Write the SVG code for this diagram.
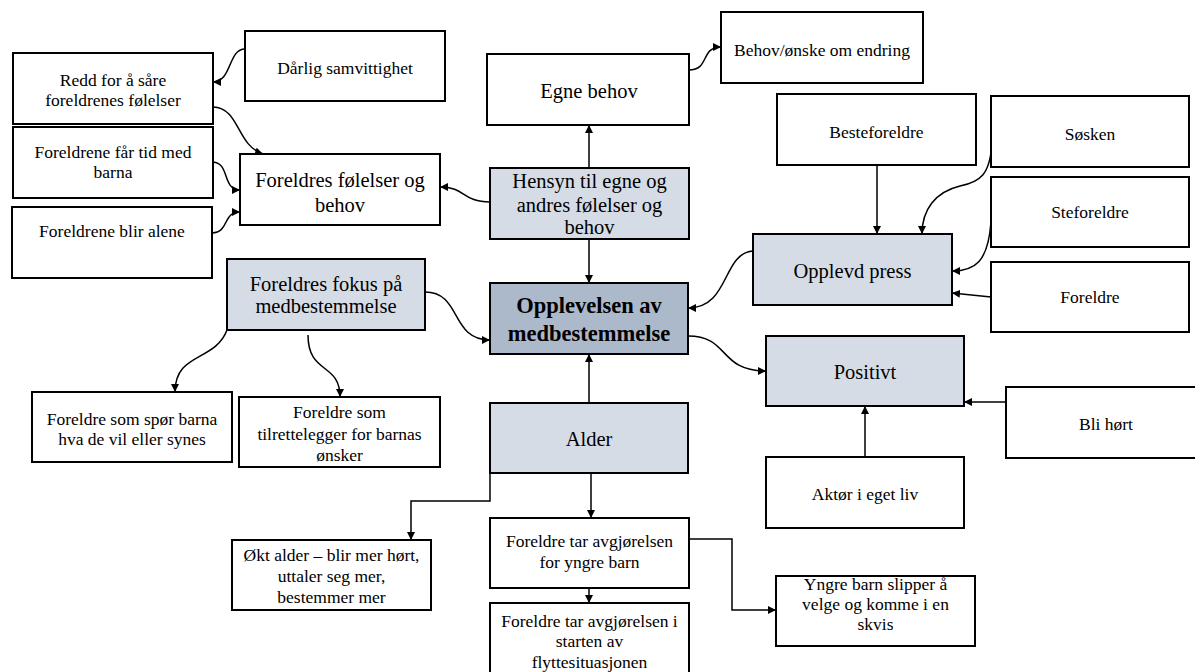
<svg xmlns="http://www.w3.org/2000/svg" width="1195" height="672" viewBox="0 0 1195 672">
<style>
.b{fill:#ffffff;stroke:#000000;stroke-width:2}
.l{fill:#d6dce5;stroke:#000000;stroke-width:2}
.d{fill:#acb9ca;stroke:#000000;stroke-width:2}
.s,.m,.x{font-family:"Liberation Serif",serif;fill:#000000;text-anchor:middle}
.s{font-size:17.5px}
.m{font-size:20.5px}
.x{font-size:22.5px;font-weight:bold}
.c{fill:none;stroke:#000000;stroke-width:1.5;marker-end:url(#ah)}
</style>
<defs>
<marker id="ah" markerUnits="userSpaceOnUse" markerWidth="9" markerHeight="8" refX="8" refY="4" orient="auto">
<path d="M0,0 L8,4 L0,8 z" fill="#000000"/>
</marker>
</defs>
<rect width="1195" height="672" fill="#ffffff"/>
<g id="connectors">
<path class="c" d="M245,49 C228,49 232,82 213,82"/>
<path class="c" d="M213,107 C240,108 236,145 263,154"/>
<path class="c" d="M213,162 C230,163 222,190 240,190"/>
<path class="c" d="M212,233 C230,232 222,212 240,212"/>
<path class="c" d="M490,202 C462,202 466,187 440,187"/>
<path class="c" d="M689,70 C710,70 700,47 721,47"/>
<path class="c" d="M992,143 C990,175 980,182 960,186 C935,192 922,210 922,234"/>
<path class="c" d="M991,222 C988,262 975,271 952,271"/>
<path class="c" d="M991,297 L952,293"/>
<path class="c" d="M753,251 C722,253 730,308 688,308"/>
<path class="c" d="M688,336 C730,336 718,371 766,371"/>
<path class="c" d="M425,292 C462,292 450,340 490,340"/>
<path class="c" d="M227,330 C215,362 175,352 175,392"/>
<path class="c" d="M308,335 C308,375 340,362 340,397"/>
<path class="c" d="M589,168 L589,125"/>
<path class="c" d="M589,239 L589,283"/>
<path class="c" d="M877,165 L877,234"/>
<path class="c" d="M589,403 L589,354"/>
<path class="c" d="M865,457 L865,406"/>
<path class="c" d="M1006,402 L964,402"/>
<path class="c" d="M490,473 L490,501 L411,501 L411,540"/>
<path class="c" d="M591,473 L591,518"/>
<path class="c" d="M589,588 L589,603"/>
<path class="c" d="M689,539 L732,539 L732,610 L776,610"/>
</g>
<g font-family="Liberation Serif, serif">
<g id="n-darlig"><rect class="b" x="245" y="31" width="200" height="70"/><text class="s" x="345" y="74">Dårlig samvittighet</text></g>
<g id="n-redd"><rect class="b" x="13" y="53" width="200" height="71"/><text class="s" x="113" y="86">Redd for å såre</text><text class="s" x="113" y="106">foreldrenes følelser</text></g>
<g id="n-tid"><rect class="b" x="13" y="127" width="200" height="71"/><text class="s" x="113" y="158">Foreldrene får tid med</text><text class="s" x="113" y="178">barna</text></g>
<g id="n-alene"><rect class="b" x="12" y="207" width="200" height="71"/><text class="s" x="112" y="237">Foreldrene blir alene</text></g>
<g id="n-foreldres-folelser"><rect class="b" x="240" y="154" width="200" height="71"/><text class="m" x="340" y="187">Foreldres følelser og</text><text class="m" x="340" y="212">behov</text></g>
<g id="n-egne"><rect class="b" x="487" y="54" width="202" height="71"/><text class="m" x="589" y="98">Egne behov</text></g>
<g id="n-endring"><rect class="b" x="721" y="12" width="202" height="71"/><text class="s" x="822" y="56">Behov/ønske om endring</text></g>
<g id="n-hensyn"><rect class="l" x="490" y="168" width="199" height="71"/><text class="m" x="589.5" y="188">Hensyn til egne og</text><text class="m" x="589.5" y="212">andres følelser og</text><text class="m" x="589.5" y="234">behov</text></g>
<g id="n-besteforeldre"><rect class="b" x="777" y="94" width="199" height="71"/><text class="s" x="876.5" y="138">Besteforeldre</text></g>
<g id="n-sosken"><rect class="b" x="991" y="96" width="198" height="71"/><text class="s" x="1090" y="140">Søsken</text></g>
<g id="n-steforeldre"><rect class="b" x="991" y="177" width="198" height="70"/><text class="s" x="1090" y="218">Steforeldre</text></g>
<g id="n-foreldre"><rect class="b" x="991" y="262" width="198" height="70"/><text class="s" x="1090" y="303">Foreldre</text></g>
<g id="n-press"><rect class="l" x="753" y="234" width="199" height="71"/><text class="m" x="852.5" y="278">Opplevd press</text></g>
<g id="n-fokus"><rect class="l" x="227" y="259" width="198" height="71"/><text class="m" x="326" y="291">Foreldres fokus på</text><text class="m" x="326" y="313">medbestemmelse</text></g>
<g id="n-opplevelsen"><rect class="d" x="490" y="283" width="198" height="71"/><text class="x" x="589" y="313">Opplevelsen av</text><text class="x" x="589" y="341">medbestemmelse</text></g>
<g id="n-positivt"><rect class="l" x="766" y="336" width="198" height="70"/><text class="m" x="865" y="379">Positivt</text></g>
<g id="n-hort"><rect class="b" x="1006" y="387" width="200" height="71"/><text class="s" x="1106" y="430">Bli hørt</text></g>
<g id="n-aktor"><rect class="b" x="766" y="457" width="198" height="71"/><text class="s" x="865" y="500">Aktør i eget liv</text></g>
<g id="n-alder"><rect class="l" x="490" y="403" width="198" height="70"/><text class="m" x="589" y="446">Alder</text></g>
<g id="n-spor"><rect class="b" x="32" y="392" width="200" height="70"/><text class="s" x="132" y="425">Foreldre som spør barna</text><text class="s" x="132" y="445">hva de vil eller synes</text></g>
<g id="n-tilrette"><rect class="b" x="239" y="397" width="201" height="70"/><text class="s" x="339.5" y="418">Foreldre som</text><text class="s" x="339.5" y="440">tilrettelegger for barnas</text><text class="s" x="339.5" y="461">ønsker</text></g>
<g id="n-okt"><rect class="b" x="232" y="540" width="199" height="70"/><text class="s" x="331.5" y="561">Økt alder – blir mer hørt,</text><text class="s" x="331.5" y="582">uttaler seg mer,</text><text class="s" x="331.5" y="603">bestemmer mer</text></g>
<g id="n-yngre-avgj"><rect class="b" x="490" y="518" width="199" height="70"/><text class="s" x="589.5" y="547">Foreldre tar avgjørelsen</text><text class="s" x="589.5" y="568">for yngre barn</text></g>
<g id="n-starten"><rect class="b" x="490" y="603" width="199" height="75"/><text class="s" x="589.5" y="627">Foreldre tar avgjørelsen i</text><text class="s" x="589.5" y="647">starten av</text><text class="s" x="589.5" y="668">flyttesituasjonen</text></g>
<g id="n-skvis"><rect class="b" x="776" y="576" width="199" height="70"/><text class="s" x="875.5" y="590">Yngre barn slipper å</text><text class="s" x="875.5" y="610">velge og komme i en</text><text class="s" x="875.5" y="630">skvis</text></g>
</g>
</svg>
